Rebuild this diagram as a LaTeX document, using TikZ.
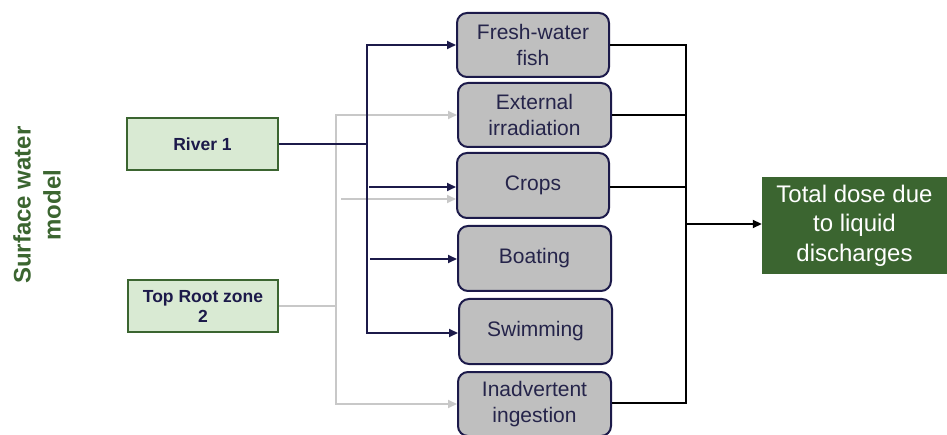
\documentclass[tikz,border=0pt]{standalone}
\usepackage{fontspec}
\setmainfont{Liberation Sans}
\usetikzlibrary{arrows.meta}
\definecolor{navy}{HTML}{1C1A4A}
\definecolor{boxgray}{HTML}{BFBFBF}
\definecolor{lgreen}{HTML}{D9EAD3}
\definecolor{dgreen}{HTML}{3B6530}
\definecolor{lgray}{HTML}{C8C8C8}
\definecolor{midtext}{HTML}{25244A}
\begin{document}
\begin{tikzpicture}[x=1pt,y=-1pt,
  srcbox/.style={draw=dgreen, fill=lgreen, line width=1.5pt, text=navy,
    font=\fontsize{17.5}{20}\selectfont\bfseries, align=center, inner sep=0pt,
    minimum height=52pt},
  midbox/.style={draw=navy, fill=boxgray, rounded corners=10pt, line width=2pt,
    text=midtext, font=\fontsize{21}{26}\selectfont, align=center, inner sep=0pt,
    minimum width=152pt, minimum height=64pt},
  dosebox/.style={fill=dgreen, text=white, font=\fontsize{24}{29.5}\selectfont,
    align=center, inner sep=0pt, minimum width=185pt, minimum height=97pt},
  tipA/.style={-{Triangle[length=9pt,width=8pt]}},
  tipB/.style={{Triangle[length=9pt,width=8pt]}-{Triangle[length=9pt,width=8pt]}},
  navyline/.style={draw=navy, line width=1.8pt},
  grayline/.style={draw=lgray, line width=1.8pt},
  blackline/.style={draw=black, line width=1.8pt},
]
\useasboundingbox (0,0) rectangle (947,435);

% left label
\node[rotate=90, text=dgreen, font=\fontsize{24}{30}\selectfont\bfseries, align=center,
  inner sep=0pt] (swm) at (37,205) {Surface water\\model};

% source boxes
\node[srcbox, minimum width=151pt] (river) at (202.5,144) {River 1};
\node[srcbox, minimum width=150pt] (root) at (203,306) {Top Root zone\\2};

% pathway boxes
\node[midbox] (fresh) at (533,45) {Fresh-water\\fish};
\node[midbox, minimum width=153pt] (ext) at (534.5,115) {External\\irradiation};
\node[midbox, minimum height=65pt] (crops) at (533,185.5) {Crops};
\node[midbox, minimum width=153pt, minimum height=65pt] (boat) at (534.5,258.5) {Boating};
\node[midbox, minimum width=153pt, minimum height=65pt] (swim) at (535.5,331.5) {Swimming};
\node[midbox, minimum width=153pt] (inad) at (534.5,404) {Inadvertent\\ingestion};

% total dose
\node[dosebox] (dose) at (854.5,225.5) {Total dose due\\to liquid\\discharges};

% gray connectors (Top Root zone 2)
\coordinate (gj) at (336,306);
\coordinate (gt) at (336,115);
\coordinate (gb) at (336,404);
\coordinate (gc) at (341,199);
\draw[grayline] (root.east |- gj) -- (gj);
\draw[grayline, tipB] (ext.west |- gt) -- (gt) -- (gb) -- (inad.west |- gb);
\draw[grayline, tipA] (gc) -- (crops.west |- gc);

% navy connectors (River 1)
\coordinate (rj) at (368,144);
\coordinate (nt) at (367,45);
\coordinate (nb) at (367,333);
\coordinate (nc) at (369,187);
\coordinate (nbo) at (370,259);
\draw[navyline] (river.east) -- (rj);
\draw[navyline, tipB] (fresh.west |- nt) -- (nt) -- (nb) -- (swim.west |- nb);
\draw[navyline, tipA] (nc) -- (crops.west |- nc);
\draw[navyline, tipA] (nbo) -- (boat.west |- nbo);

% black connectors to total dose
\coordinate (bt) at (686,45);
\coordinate (bb) at (686,403);
\coordinate (be) at (686,115);
\coordinate (bc) at (686,187);
\coordinate (bm) at (686,224);
\draw[blackline] (fresh.east |- bt) -- (bt) -- (bb) -- (inad.east |- bb);
\draw[blackline] (ext.east |- be) -- (be);
\draw[blackline] (crops.east |- bc) -- (bc);
\draw[blackline, tipA] (bm) -- (dose.west |- bm);
\end{tikzpicture}
\end{document}
